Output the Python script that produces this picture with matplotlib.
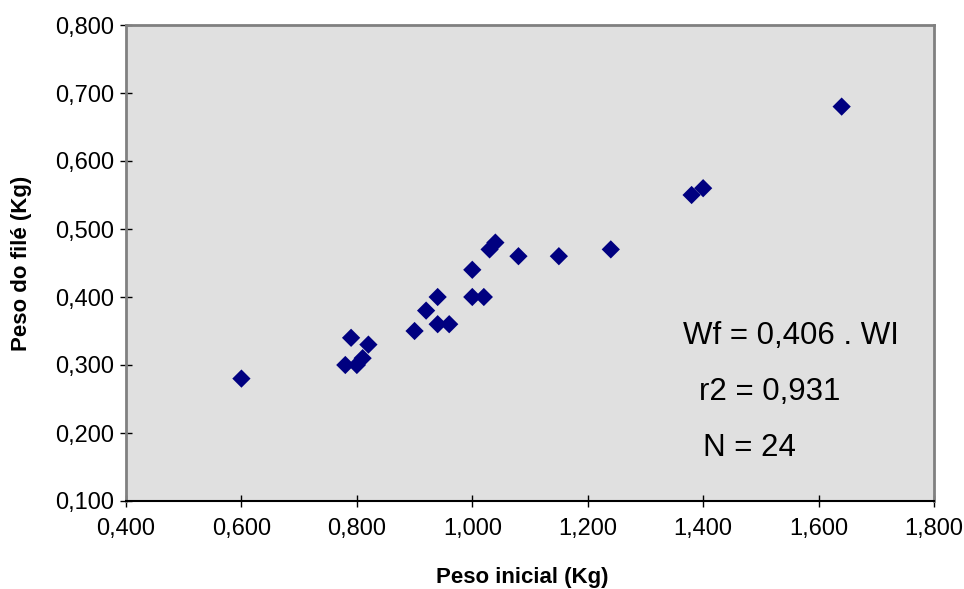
import matplotlib
matplotlib.use("Agg")
import matplotlib.pyplot as plt
from matplotlib.ticker import FuncFormatter, MultipleLocator

plt.rcParams['font.family'] = ['Liberation Sans', 'DejaVu Sans']

peso_inicial = [0.60, 0.78, 0.79, 0.80, 0.81, 0.82, 0.90, 0.92, 0.94, 0.94, 0.96,
                1.00, 1.00, 1.02, 1.03, 1.04, 1.08, 1.15, 1.24, 1.38, 1.40, 1.64]
peso_file = [0.28, 0.30, 0.34, 0.30, 0.31, 0.33, 0.35, 0.38, 0.40, 0.36, 0.36,
             0.44, 0.40, 0.40, 0.47, 0.48, 0.46, 0.46, 0.47, 0.55, 0.56, 0.68]

annot = ["Wf = 0,406 . WI", "r2 = 0,931", "N = 24"]

W, H = 964, 589
fig = plt.figure(figsize=(W/100, H/100), dpi=100)
ax = fig.add_axes([126/W, 1-501/H, (934-126)/W, (501-25)/H])
ax.set_facecolor('#E0E0E0')

ax.scatter(peso_inicial, peso_file, marker='D', s=9.3**2, color='#000080',
           edgecolors='none', zorder=3)

ax.set_xlim(0.4, 1.8)
ax.set_ylim(0.1, 0.8)
ax.xaxis.set_major_locator(MultipleLocator(0.2))
ax.yaxis.set_major_locator(MultipleLocator(0.1))
fmt = FuncFormatter(lambda v, p: f"{v:.3f}".replace('.', ','))
ax.xaxis.set_major_formatter(fmt)
ax.yaxis.set_major_formatter(fmt)
ax.tick_params(axis='both', direction='inout', length=9, width=1, colors='black',
               labelsize=17)
ax.tick_params(axis='x', pad=8)
ax.tick_params(axis='y', pad=4)

for s in ['top', 'right', 'left']:
    ax.spines[s].set_color('#808080')
    ax.spines[s].set_linewidth(2)
ax.spines['bottom'].set_color('black')
ax.spines['bottom'].set_linewidth(1.5)

fig.text(522/W, 1-578/H, "Peso inicial (Kg)", ha='center', va='center',
         fontsize=16, fontweight='bold')
fig.text(22/W, 1-263/H, "Peso do filé (Kg)", ha='center', va='center',
         fontsize=16, fontweight='bold', rotation=90)

pos = [(683, 336), (699, 392), (703, 448)]
for t, (px, py) in zip(annot, pos):
    fig.text(px/W, 1-py/H, t, ha='left', va='center', fontsize=22.5)

fig.savefig("out.png", dpi=100)
